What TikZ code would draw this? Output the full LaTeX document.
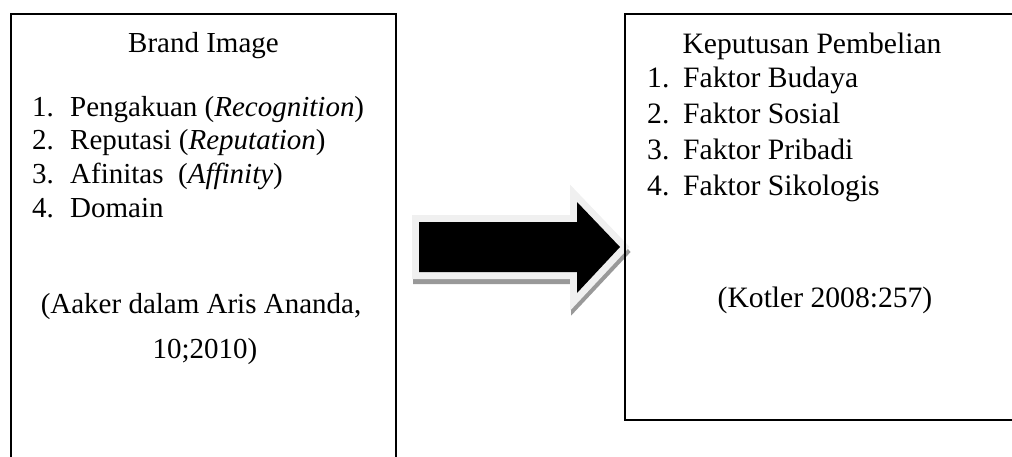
\documentclass[tikz,border=0pt]{standalone}
\usepackage{fontspec}
\setmainfont[Ligatures=CommonOff]{Liberation Serif}
\usetikzlibrary{positioning}

\tikzset{
  judul/.style={inner sep=0pt, anchor=base},
  butir/.style={inner sep=0pt, anchor=base west},
}
\newcommand{\hurufkiri}{\fontsize{29}{34}\selectfont}
\newcommand{\hurufkanan}{\fontsize{29.6}{36}\selectfont}
\newcommand{\panah}[1]{\path[#1] (419,222) -- (577,222) -- (577,202) -- (620,247)
  -- (577,293) -- (577,272) -- (419,272) -- cycle;}

\begin{document}
\begin{tikzpicture}[x=1pt,y=-1pt]
    \useasboundingbox (0,0) rectangle (1012,456);

    % panah besar: bayangan, tepi terang, isi hitam
    \panah{draw=black!40, fill=black!40, line width=14pt, shift={(1,5)}}
    \panah{draw=black!6, fill=black!6, line width=14pt}
    \panah{fill=black}

    % kotak kiri
    \draw[line width=1.3pt] (11,14) rectangle (396,470);
    \node[judul, font=\hurufkiri] (brand) at (203.5,52) {Brand Image};
    \foreach \n/\t [count=\i] in {1./{Pengakuan (\textit{Recognition})},
                                  2./{Reputasi (\textit{Reputation})},
                                  3./{Afinitas \ (\textit{Affinity})},
                                  4./{Domain}} {
        \node[butir, font=\hurufkiri] (nokiri\i) at (32,{82.3+33.7*\i}) {\n};
        \node[butir, font=\hurufkiri] (isikiri\i) at (70,{82.3+33.7*\i}) {\t};
    }
    \node[judul, font=\hurufkiri] (sumberkiri) at (201,313) {(Aaker dalam Aris Ananda,};
    \node[judul, font=\hurufkiri] (tahunkiri) at (205,358) {10;2010)};

    % kotak kanan
    \draw[line width=1.8pt] (625,14) rectangle (1030,420);
    \node[judul, font=\hurufkanan] (keputusan) at (812,53) {Keputusan Pembelian};
    \foreach \n/\t [count=\i] in {1./{Faktor Budaya},
                                  2./{Faktor Sosial},
                                  3./{Faktor Pribadi},
                                  4./{Faktor Sikologis}} {
        \node[butir, font=\hurufkanan] (nokanan\i) at (647,{51+36*\i}) {\n};
        \node[butir, font=\hurufkanan] (isikanan\i) at (683,{51+36*\i}) {\t};
    }
    \node[judul, font=\hurufkanan] (kotler) at (825,307) {(Kotler 2008:257)};
\end{tikzpicture}
\end{document}
